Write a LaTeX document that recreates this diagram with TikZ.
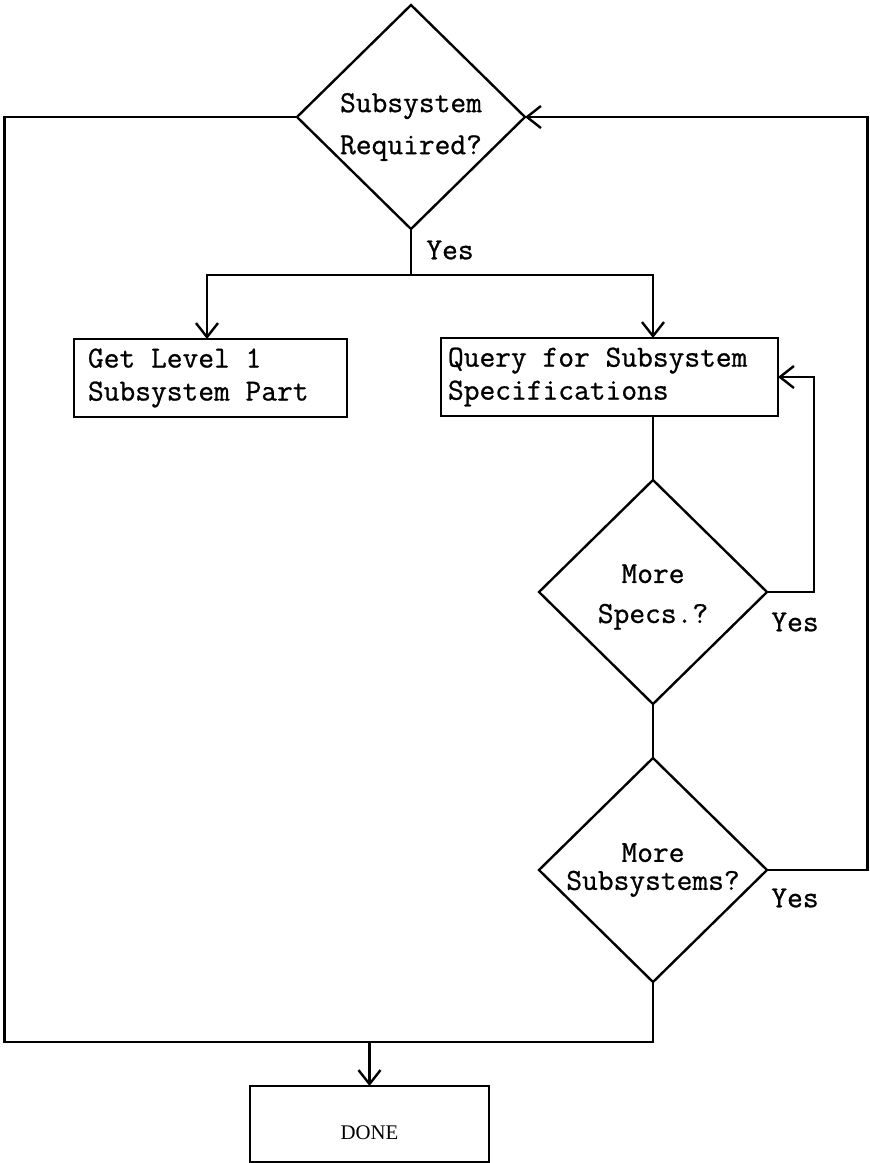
\documentclass[tikz,border=0pt]{standalone}
\usepackage{fontspec}
\setmainfont{Liberation Serif}
\newfontfamily\flowtt{Latin Modern Mono}[FakeBold=0.8]
\usetikzlibrary{shapes.geometric,arrows.meta}

\newcommand{\flowfont}{\flowtt\fontsize{15.3}{16.5}\selectfont}

\begin{document}
\begin{tikzpicture}[x={(0.5pt,0pt)},y={(0pt,-0.5pt)},line width=1.2pt,
  every node/.style={font=\flowfont, inner sep=0pt, outer sep=0pt},
  every label/.style={align=center},
  decision/.style={diamond, draw, aspect=1, minimum width=114pt, minimum height=112pt},
  task/.style={rectangle, draw, align=flush left, inner xsep=3.5pt, minimum height=39pt},
  flow/.style={-{Straight Barb[length=7pt,width=11pt]}}]
\useasboundingbox (0,0) rectangle (869,1163);

% decisions
\node[decision, label={[yshift=-5pt]center:Subsystem\\[4.5pt]Required?}] (req) at (411,117) {};
\node[decision, label={[yshift=-2.5pt]center:More\\[3.5pt]Specs.?}] (specs) at (653,592) {};
\node[decision, label={center:More\\[-2.5pt]Subsystems?}] (subs) at (653,870) {};

% tasks
\node[task, inner xsep=7pt, text width=122.5pt] (getpart) at (210.5,378) {Get Level 1\\Subsystem Part};
\node[task, text width=161.5pt] (query) at (609.5,377) {Query for Subsystem\\Specifications};
\node[draw, minimum width=119.5pt, minimum height=38pt, text height=15pt, text depth=0pt,
  font=\rmfamily\fontsize{10.4}{12}\selectfont] (done) at (369.5,1124) {DONE};

% answers
\node (yes1) at (450,250) {Yes};
\node (yes2) at (795,622) {Yes};
\node (yes3) at (795,898) {Yes};

% connectors
\coordinate (fork) at (411,275);
\coordinate (merge) at (369.5,1042);
\draw (req.south) -- (fork);
\draw[flow] (fork) -| ([xshift=-1.75pt]getpart.north);
\draw[flow] (fork) -| (query.north -| specs.north);
\draw (query.south -| specs.north) -- (specs.north);
\draw[flow] (specs.east) -- ++(47,0) |- (query.east);
\draw (specs.south) -- (subs.north);
\draw[flow] (subs.east) -- ++(100.5,0) |- (req.east);
\draw (req.west) -- ++(-292.5,0) |- (subs.south |- merge) -- (subs.south);
\draw[flow] (merge) -- (done);
\end{tikzpicture}
\end{document}
